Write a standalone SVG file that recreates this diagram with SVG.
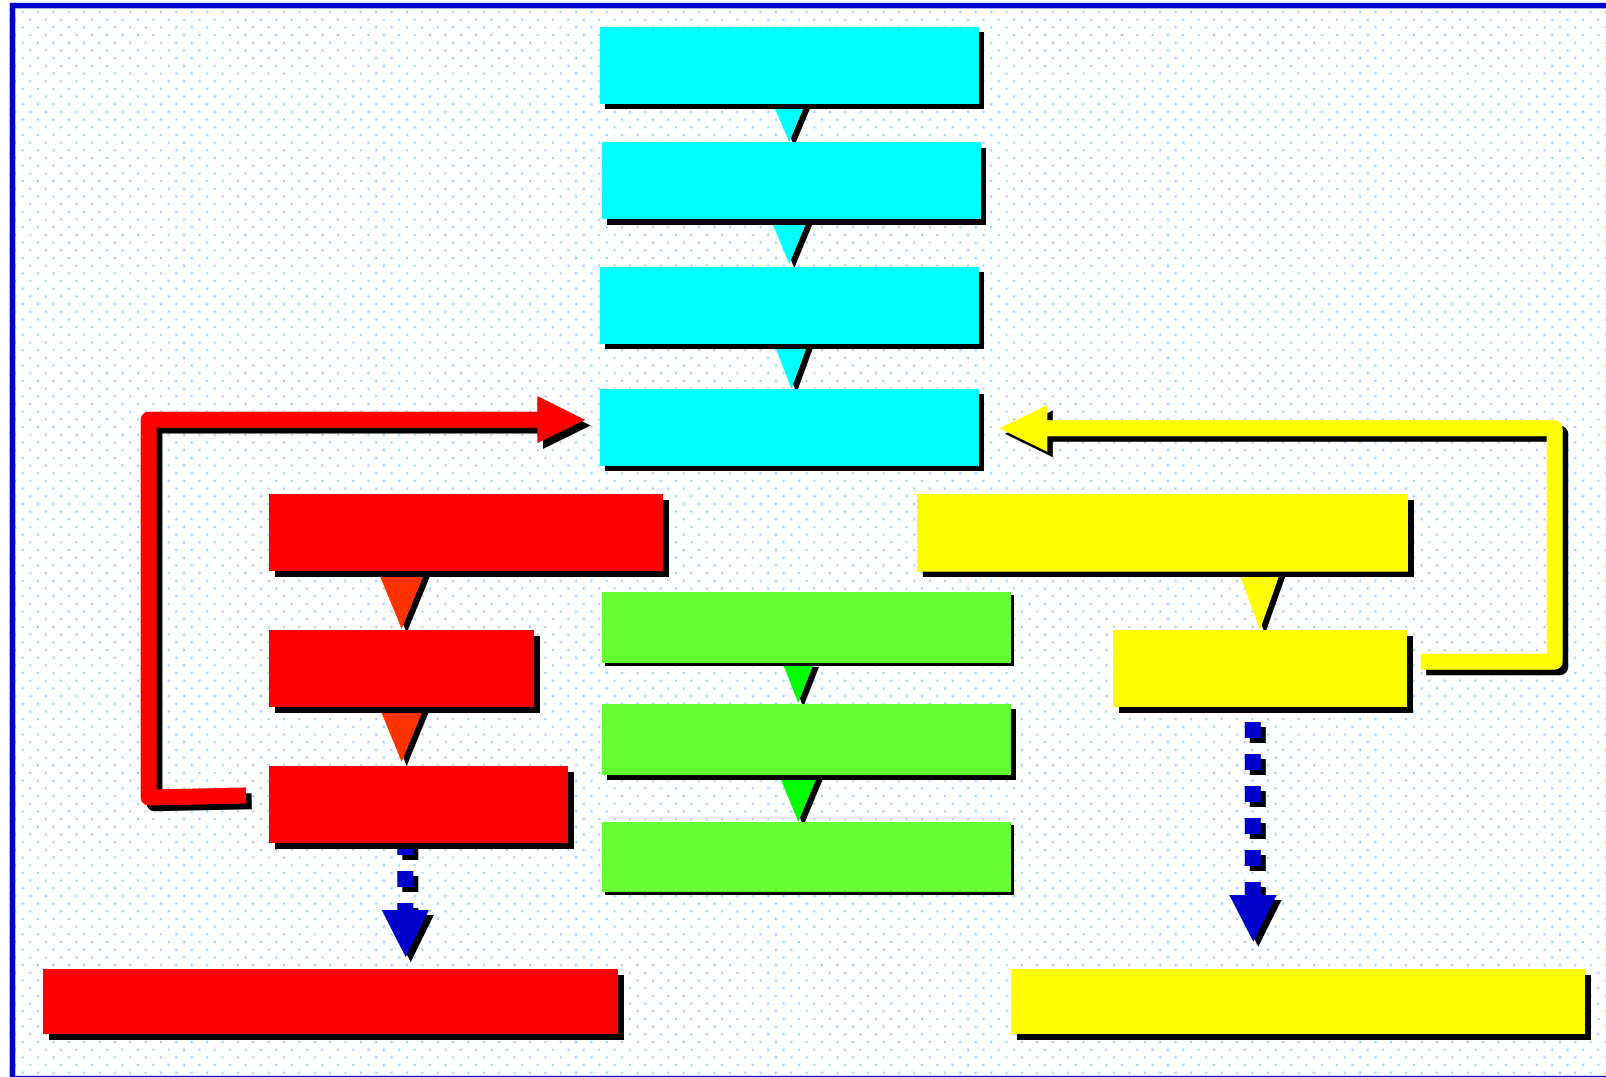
<svg xmlns="http://www.w3.org/2000/svg" width="1606" height="1077" viewBox="0 0 1606 1077">
<style>
.shadow{fill:#000}
.cyan{fill:#00ffff}
.red{fill:#ff0000}
.green{fill:#66ff33}
.yellow{fill:#ffff00}
.tip-cyan{fill:#00ffff}
.tip-red{fill:#ff3300}
.tip-green{fill:#00ff00}
.tip-yellow{fill:#ffff00}
.tip-blue{fill:#0000cc}
.pipe{fill:none;stroke-width:16;stroke-linejoin:round;stroke-linecap:butt}
.dash{fill:none;stroke-width:16;stroke-dasharray:16 16;stroke-linecap:butt}
.s-black{stroke:#000}
.s-red{stroke:#ff0000}
.s-yellow{stroke:#ffff00}
.s-blue{stroke:#0000cc}
</style>
<defs>
  <!-- staggered dot grid for the canvas -->
  <pattern id="dots" x="18.83" y="8.16" width="15.373" height="15.373" patternUnits="userSpaceOnUse">
    <circle cx="3.84" cy="3.84" r="1.6" fill="#e2effc"/>
    <circle cx="11.53" cy="11.53" r="1.6" fill="#e2effc"/>
    <circle cx="3.84" cy="3.84" r="0.95" fill="#96c5f5"/>
    <circle cx="11.53" cy="11.53" r="0.95" fill="#96c5f5"/>
  </pattern>
</defs>

<!-- canvas -->
<rect x="0" y="0" width="1606" height="1077" fill="#ffffff"/>
<rect x="15" y="8.4" width="1591" height="1070" fill="url(#dots)"/>
<rect x="12.5" y="5.6" width="1620" height="1073" fill="none" stroke="#0000cc" stroke-width="5.5"/>

<g id="connectors">
  <!-- short arrow tips between stacked boxes -->
  <g transform="translate(5,4)" class="shadow">
    <polygon points="772.7,104 805.3,104 789.3,142"/>
    <polygon points="770.5,219 808,219 789.3,264"/>
    <polygon points="774,344 808,344 791.5,389"/>
    <polygon points="377.8,571 425.5,571 401.7,629"/>
    <polygon points="379,706.7 424.4,706.7 401.7,762"/>
    <polygon points="782.5,663 814,663 798.3,703"/>
    <polygon points="779,775 818,775 798.3,822"/>
    <polygon points="1238.5,571.7 1280.6,571.7 1260,630"/>
  </g>
  <polygon class="tip-cyan" points="772.7,104 805.3,104 789.3,142"/>
  <polygon class="tip-cyan" points="770.5,219 808,219 789.3,264"/>
  <polygon class="tip-cyan" points="774,344 808,344 791.5,389"/>
  <polygon class="tip-red" points="377.8,571 425.5,571 401.7,629"/>
  <polygon class="tip-red" points="379,706.7 424.4,706.7 401.7,762"/>
  <polygon class="tip-green" points="782.5,663 814,663 798.3,703"/>
  <polygon class="tip-green" points="779,775 818,775 798.3,822"/>
  <polygon class="tip-yellow" points="1238.5,571.7 1280.6,571.7 1260,630"/>

  <!-- red feedback loop -->
  <g transform="translate(5.7,5.7)">
    <path class="pipe s-black" d="M246,795.5 L148.7,797.5 L148.7,419.7 L540,419.7"/>
    <polygon class="shadow" points="537.3,396 537.3,443.3 585,419.7"/>
  </g>
  <path class="pipe s-red" d="M246,795.5 L148.7,797.5 L148.7,419.7 L540,419.7"/>
  <polygon class="red" points="537.3,396 537.3,443.3 585,419.7"/>

  <!-- yellow feedback loop -->
  <g transform="translate(5.5,5.5)">
    <path class="pipe s-black" d="M1420.7,661.7 L1554.7,661.7 L1554.7,428.3 L1045,428.3"/>
    <polygon class="shadow" points="1047.3,405 1047.3,451.7 999.3,428.3"/>
  </g>
  <path class="pipe s-yellow" d="M1420.7,661.7 L1554.7,661.7 L1554.7,428.3 L1045,428.3"/>
  <polygon class="yellow" points="1047.3,405 1047.3,451.7 999.3,428.3"/>

  <!-- dotted blue arrows -->
  <g transform="translate(5,5)">
    <line class="dash s-black" x1="405.3" y1="807" x2="405.3" y2="910"/>
    <polygon class="shadow" points="381.7,910 429,910 405.7,957.3"/>
    <line class="dash s-black" x1="1252.8" y1="722" x2="1252.8" y2="895"/>
    <polygon class="shadow" points="1229.3,895 1276.7,895 1253.3,941.7"/>
  </g>
  <line class="dash s-blue" x1="405.3" y1="807" x2="405.3" y2="910"/>
  <polygon class="tip-blue" points="381.7,910 429,910 405.7,957.3"/>
  <line class="dash s-blue" x1="1252.8" y1="722" x2="1252.8" y2="895"/>
  <polygon class="tip-blue" points="1229.3,895 1276.7,895 1253.3,941.7"/>
</g>

<!-- cyan column -->
<g id="cyan-1"><rect class="shadow" x="605" y="32" width="379" height="77"/><rect class="cyan" x="600" y="27" width="379" height="77"/></g>
<g id="cyan-2"><rect class="shadow" x="607" y="148" width="379" height="77"/><rect class="cyan" x="602" y="142" width="379" height="77"/></g>
<g id="cyan-3"><rect class="shadow" x="605" y="272" width="379" height="77"/><rect class="cyan" x="600" y="267" width="379" height="77"/></g>
<g id="cyan-4"><rect class="shadow" x="605" y="394" width="379" height="77"/><rect class="cyan" x="600" y="389" width="379" height="77"/></g>

<!-- red column -->
<g id="red-1"><rect class="shadow" x="275" y="500" width="394" height="77"/><rect class="red" x="269" y="494" width="394" height="77"/></g>
<g id="red-2"><rect class="shadow" x="275" y="636" width="265" height="77"/><rect class="red" x="269" y="630" width="265" height="77"/></g>
<g id="red-3"><rect class="shadow" x="275" y="772" width="299" height="77"/><rect class="red" x="269" y="766" width="299" height="77"/></g>
<g id="red-4"><rect class="shadow" x="49" y="975" width="575" height="65"/><rect class="red" x="43" y="969" width="575" height="65"/></g>

<!-- green column -->
<g id="green-1"><rect class="shadow" x="605" y="595" width="409" height="71"/><rect class="green" x="602" y="592" width="409" height="71"/></g>
<g id="green-2"><rect class="shadow" x="607" y="709" width="409" height="71"/><rect class="green" x="602" y="704" width="409" height="71"/></g>
<g id="green-3"><rect class="shadow" x="605" y="825" width="409" height="70"/><rect class="green" x="602" y="822" width="409" height="70"/></g>

<!-- yellow column -->
<g id="yellow-1"><rect class="shadow" x="923" y="500" width="491" height="77"/><rect class="yellow" x="917" y="494" width="491" height="77.7"/></g>
<g id="yellow-2"><rect class="shadow" x="1119" y="636" width="294" height="77"/><rect class="yellow" x="1113" y="630" width="294" height="77"/></g>
<g id="yellow-3"><rect class="shadow" x="1017" y="975" width="574" height="65"/><rect class="yellow" x="1011" y="969" width="574" height="65"/></g>
</svg>
